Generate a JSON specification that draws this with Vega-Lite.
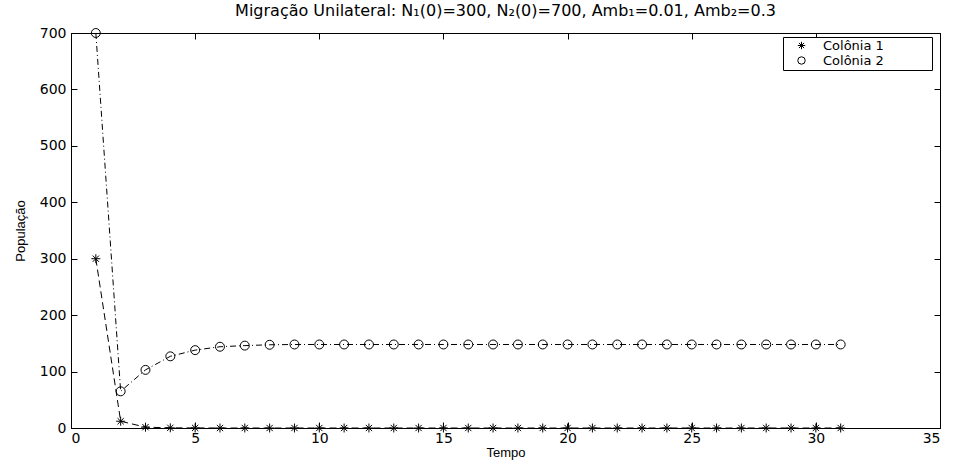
{
  "$schema": "https://vega.github.io/schema/vega-lite/v6.json",
  "autosize": {"type": "none"},
  "padding": {"left": 71, "top": 33, "right": 14, "bottom": 33},
  "width": 869,
  "height": 395,
  "background": "white",
  "title": {
    "text": "Migração Unilateral: N₁(0)=300, N₂(0)=700, Amb₁=0.01, Amb₂=0.3",
    "fontSize": 16,
    "fontWeight": "normal",
    "font": "DejaVu Sans",
    "color": "black",
    "offset": 7,
    "anchor": "middle"
  },
  "config": {
    "view": {"stroke": "black", "strokeWidth": 1},
    "axis": {
      "domainColor": "black",
      "tickColor": "black",
      "tickSize": -6,
      "grid": false,
      "labelFont": "DejaVu Sans",
      "labelFontSize": 14,
      "labelColor": "black",
      "titleFont": "Liberation Sans",
      "titleFontSize": 13,
      "titleFontWeight": "normal",
      "titleColor": "black"
    },
    "legend": {
      "labelFont": "DejaVu Sans",
      "labelFontSize": 13,
      "labelColor": "black"
    }
  },
  "data": {
    "values": [
      {"t": 1, "serie": "Colônia 1", "pop": 300},
      {"t": 2, "serie": "Colônia 1", "pop": 12},
      {"t": 3, "serie": "Colônia 1", "pop": 1.5},
      {"t": 4, "serie": "Colônia 1", "pop": 0.3},
      {"t": 5, "serie": "Colônia 1", "pop": 0.1},
      {"t": 6, "serie": "Colônia 1", "pop": 0},
      {"t": 7, "serie": "Colônia 1", "pop": 0},
      {"t": 8, "serie": "Colônia 1", "pop": 0},
      {"t": 9, "serie": "Colônia 1", "pop": 0},
      {"t": 10, "serie": "Colônia 1", "pop": 0},
      {"t": 11, "serie": "Colônia 1", "pop": 0},
      {"t": 12, "serie": "Colônia 1", "pop": 0},
      {"t": 13, "serie": "Colônia 1", "pop": 0},
      {"t": 14, "serie": "Colônia 1", "pop": 0},
      {"t": 15, "serie": "Colônia 1", "pop": 0},
      {"t": 16, "serie": "Colônia 1", "pop": 0},
      {"t": 17, "serie": "Colônia 1", "pop": 0},
      {"t": 18, "serie": "Colônia 1", "pop": 0},
      {"t": 19, "serie": "Colônia 1", "pop": 0},
      {"t": 20, "serie": "Colônia 1", "pop": 0},
      {"t": 21, "serie": "Colônia 1", "pop": 0},
      {"t": 22, "serie": "Colônia 1", "pop": 0},
      {"t": 23, "serie": "Colônia 1", "pop": 0},
      {"t": 24, "serie": "Colônia 1", "pop": 0},
      {"t": 25, "serie": "Colônia 1", "pop": 0},
      {"t": 26, "serie": "Colônia 1", "pop": 0},
      {"t": 27, "serie": "Colônia 1", "pop": 0},
      {"t": 28, "serie": "Colônia 1", "pop": 0},
      {"t": 29, "serie": "Colônia 1", "pop": 0},
      {"t": 30, "serie": "Colônia 1", "pop": 0},
      {"t": 31, "serie": "Colônia 1", "pop": 0},
      {"t": 1, "serie": "Colônia 2", "pop": 700},
      {"t": 2, "serie": "Colônia 2", "pop": 65},
      {"t": 3, "serie": "Colônia 2", "pop": 103},
      {"t": 4, "serie": "Colônia 2", "pop": 127},
      {"t": 5, "serie": "Colônia 2", "pop": 138},
      {"t": 6, "serie": "Colônia 2", "pop": 144},
      {"t": 7, "serie": "Colônia 2", "pop": 146},
      {"t": 8, "serie": "Colônia 2", "pop": 147.5},
      {"t": 9, "serie": "Colônia 2", "pop": 148},
      {"t": 10, "serie": "Colônia 2", "pop": 148},
      {"t": 11, "serie": "Colônia 2", "pop": 148},
      {"t": 12, "serie": "Colônia 2", "pop": 148},
      {"t": 13, "serie": "Colônia 2", "pop": 148},
      {"t": 14, "serie": "Colônia 2", "pop": 148},
      {"t": 15, "serie": "Colônia 2", "pop": 148},
      {"t": 16, "serie": "Colônia 2", "pop": 148},
      {"t": 17, "serie": "Colônia 2", "pop": 148},
      {"t": 18, "serie": "Colônia 2", "pop": 148},
      {"t": 19, "serie": "Colônia 2", "pop": 148},
      {"t": 20, "serie": "Colônia 2", "pop": 148},
      {"t": 21, "serie": "Colônia 2", "pop": 148},
      {"t": 22, "serie": "Colônia 2", "pop": 148},
      {"t": 23, "serie": "Colônia 2", "pop": 148},
      {"t": 24, "serie": "Colônia 2", "pop": 148},
      {"t": 25, "serie": "Colônia 2", "pop": 148},
      {"t": 26, "serie": "Colônia 2", "pop": 148},
      {"t": 27, "serie": "Colônia 2", "pop": 148},
      {"t": 28, "serie": "Colônia 2", "pop": 148},
      {"t": 29, "serie": "Colônia 2", "pop": 148},
      {"t": 30, "serie": "Colônia 2", "pop": 148},
      {"t": 31, "serie": "Colônia 2", "pop": 148}
    ]
  },
  "layer": [
    {
      "transform": [{"filter": "datum.serie === 'Colônia 1'"}],
      "mark": {"type": "line", "color": "black", "strokeWidth": 1, "strokeDash": [7, 4]},
      "encoding": {
        "x": {"field": "t", "type": "quantitative",
              "scale": {"domain": [0, 35], "nice": false},
              "axis": {"orient": "top", "labels": false, "title": null, "values": [0, 5, 10, 15, 20, 25, 30, 35], "domain": false}},
        "y": {"field": "pop", "type": "quantitative",
              "scale": {"domain": [0, 700], "nice": false},
              "axis": {"orient": "right", "labels": false, "title": null, "values": [0, 100, 200, 300, 400, 500, 600, 700], "domain": false}}
      }
    },
    {
      "transform": [{"filter": "datum.serie === 'Colônia 2'"}],
      "mark": {"type": "line", "color": "black", "strokeWidth": 1, "strokeDash": [6, 3, 1, 3]},
      "encoding": {
        "x": {"field": "t", "type": "quantitative", "scale": {"domain": [0, 35], "nice": false}, "axis": null},
        "y": {"field": "pop", "type": "quantitative", "scale": {"domain": [0, 700], "nice": false}, "axis": null}
      }
    },
    {
      "mark": {"type": "point", "color": "black", "filled": false, "strokeWidth": 1, "size": 80, "opacity": 1},
      "encoding": {
        "x": {"field": "t", "type": "quantitative",
              "scale": {"domain": [0, 35], "nice": false},
              "axis": {"orient": "bottom", "title": "Tempo", "values": [0, 5, 10, 15, 20, 25, 30, 35], "labelPadding": 9, "titlePadding": 1}},
        "y": {"field": "pop", "type": "quantitative",
              "scale": {"domain": [0, 700], "nice": false},
              "axis": {"orient": "left", "title": "População", "values": [0, 100, 200, 300, 400, 500, 600, 700], "labelPadding": 11, "titlePadding": 12}},
        "shape": {"field": "serie", "type": "nominal",
                  "scale": {"domain": ["Colônia 1", "Colônia 2"],
                            "range": ["M-1,0L1,0M0,-1L0,1M-0.7,-0.7L0.7,0.7M-0.7,0.7L0.7,-0.7", "circle"]},
                  "legend": {"title": null, "orient": "none", "legendX": 712, "legendY": 4,
                             "strokeColor": "black", "fillColor": "white", "padding": 2,
                             "symbolSize": 55, "symbolStrokeColor": "black", "symbolFillColor": "transparent",
                             "symbolStrokeWidth": 1, "symbolOffset": 10,
                             "labelOffset": 15, "rowPadding": 1,
                             "labelExpr": "datum.label + '\u2003\u2003\u2003\u2002\u200b'"}}
      }
    }
  ],
  "resolve": {"axis": {"x": "independent", "y": "independent"}}
}
